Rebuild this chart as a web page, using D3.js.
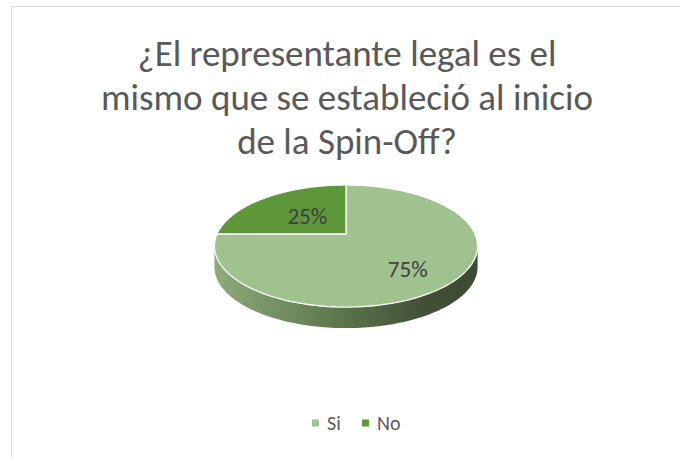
<!DOCTYPE html>
<html>
<head>
<meta charset="utf-8">
<script src="https://cdn.jsdelivr.net/npm/d3@7"></script>
<style>
  body { margin: 0; background: #fff; }
  svg { display: block; }
  text { font-family: Carlito, Calibri, Lato, 'Open Sans', sans-serif; }
</style>
</head>
<body>
<svg width="680" height="457"></svg>
<script>
// data
const categories = ['Si', 'No']
const values = [75, 25]
const labels = ['75%', '25%']
const titleLines = ['¿El representante legal es el', 'mismo que se estableció al inicio', 'de la Spin-Off?']
const colors = ['#a0c28e', '#5e973a']

const svg = d3.select('svg')

// chart border (runs off the right and bottom edges)
svg.append('rect')
  .attr('x', 11.5).attr('y', 6.5)
  .attr('width', 700).attr('height', 480)
  .attr('fill', '#fff')
  .attr('stroke', '#d9d9d9')
  .attr('stroke-width', 1)

// title
svg.append('g').selectAll('text')
  .data(titleLines)
  .enter()
  .append('text')
  .attr('x', 347)
  .attr('y', (d, i) => 66 + 44 * i)
  .attr('text-anchor', 'middle')
  .attr('font-size', 37)
  .attr('font-weight', 300)
  .attr('fill', '#595959')
  .text(d => d)

// 3d pie projection: angle a (0 = top, clockwise), r in [0,1]
const cx = 346, cy = 234
const A = 129, B = 58.7, k = 0.197, depth = 21
function proj (a, r) {
  const u = r * Math.sin(a), v = -r * Math.cos(a)
  const w = 1 - k * v
  return [cx + A * u / w, cy + B * v / w]
}

const pie = d3.pie().sort(null)
const arcs = pie(values)

function arcPoints (a0, a1, r, n) {
  const pts = []
  for (let i = 0; i <= n; i++) pts.push(proj(a0 + (a1 - a0) * i / n, r))
  return pts
}

// gradient for the side wall
const grad = svg.append('defs').append('linearGradient')
  .attr('id', 'side')
  .attr('x1', 0).attr('x2', 1).attr('y1', 0).attr('y2', 0)
grad.append('stop').attr('offset', '0%').attr('stop-color', '#8eab7b')
grad.append('stop').attr('offset', '45%').attr('stop-color', '#5f784d')
grad.append('stop').attr('offset', '80%').attr('stop-color', '#415037')
grad.append('stop').attr('offset', '100%').attr('stop-color', '#3d4a34')

// visible side: between the two silhouette angles
const sRight = Math.PI - Math.acos(k)
const sLeft = Math.PI + Math.acos(k)
const line = d3.line()

arcs.forEach((d, i) => {
  const a0 = Math.max(d.startAngle, sRight)
  const a1 = Math.min(d.endAngle, sLeft)
  if (a1 <= a0) return
  const top = arcPoints(a0, a1, 1, 120)
  const bottom = top.map(p => [p[0], p[1] + depth]).reverse()
  svg.append('path')
    .attr('d', line(top.concat(bottom)) + 'Z')
    .attr('fill', 'url(#side)')
})

// top face
svg.append('g').selectAll('path')
  .data(arcs)
  .enter()
  .append('path')
  .attr('d', d => line([[cx, cy]].concat(arcPoints(d.startAngle, d.endAngle, 1, 200))) + 'Z')
  .attr('fill', (d, i) => colors[i])
  .attr('stroke', '#fff')
  .attr('stroke-width', 1.3)
  .attr('stroke-linejoin', 'round')

// data labels
const labelPos = [[0.6, 2, 8], [0.45, 0, 0]]
svg.append('g').selectAll('text')
  .data(arcs)
  .enter()
  .append('text')
  .attr('x', (d, i) => proj((d.startAngle + d.endAngle) / 2, labelPos[i][0])[0] + labelPos[i][1])
  .attr('y', (d, i) => proj((d.startAngle + d.endAngle) / 2, labelPos[i][0])[1] + labelPos[i][2])
  .attr('text-anchor', 'middle')
  .attr('dominant-baseline', 'central')
  .attr('font-size', 23)
  .attr('font-weight', 300)
  .attr('fill', '#404040')
  .text((d, i) => labels[i])

// legend
const legend = svg.append('g').attr('transform', 'translate(312,423)')
const item = legend.selectAll('g')
  .data(categories)
  .enter()
  .append('g')
  .attr('transform', (d, i) => `translate(${i * 50},0)`)
item.append('rect')
  .attr('x', 0).attr('y', -3.5)
  .attr('width', 7).attr('height', 7)
  .attr('fill', (d, i) => colors[i])
item.append('text')
  .attr('x', 15)
  .attr('y', 0)
  .attr('dominant-baseline', 'central')
  .attr('font-size', 20)
  .attr('font-weight', 300)
  .attr('fill', '#595959')
  .text(d => d)
</script>
</body>
</html>
